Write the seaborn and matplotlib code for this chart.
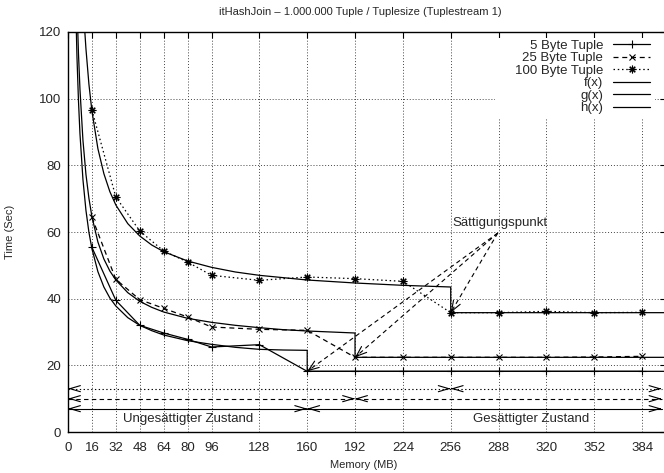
import matplotlib
matplotlib.use("Agg")
import matplotlib.pyplot as plt
import seaborn as sns
from matplotlib.patches import Rectangle

# ---------------- data ----------------
memory = [16, 32, 48, 64, 80, 96, 128, 160, 192, 224, 256, 288, 320, 352, 384]
time_5 = [55.4, 39.5, 32.0, 29.7, 27.8, 25.5, 26.2, 18.2, 18.2, 18.2, 18.2, 18.2, 18.2, 18.2, 18.2]
time_25 = [64.4, 45.8, 39.7, 37.1, 34.5, 31.5, 30.8, 30.5, 22.4, 22.4, 22.4, 22.4, 22.4, 22.5, 22.7]
time_100 = [96.6, 70.5, 60.3, 54.3, 51.0, 47.0, 45.5, 46.5, 46.0, 45.2, 35.8, 35.8, 36.2, 35.8, 35.9]

f_x = [5, 6, 7, 8, 10, 12, 14, 16, 20, 24, 28, 32, 40, 48, 56, 64, 80, 96, 112, 128, 144, 160, 160, 400]
f_y = [130.9, 112.5, 99.4, 89.5, 75.7, 66.5, 59.9, 55.0, 48.1, 43.5, 40.2, 37.8, 34.3, 32.0, 30.4,
       29.1, 27.4, 26.3, 25.4, 24.8, 24.6, 24.5, 18.2, 18.2]
g_x = [5, 6, 7, 8, 10, 12, 14, 16, 20, 24, 28, 32, 40, 48, 56, 64, 80, 96, 112, 128, 144, 160, 176,
       192, 192, 400]
g_y = [148.5, 128.2, 113.6, 102.8, 87.5, 77.3, 70.1, 64.6, 57.0, 51.9, 48.3, 45.6, 41.8, 39.2, 37.4,
       36.0, 34.1, 32.9, 32.0, 31.3, 30.7, 30.3, 30.0, 29.7, 22.4, 22.4]
h_x = [10, 11, 12, 14, 16, 20, 24, 28, 32, 40, 48, 56, 64, 80, 96, 112, 128, 160, 192, 224, 256, 256, 400]
h_y = [130.0, 121.8, 115.0, 104.3, 96.3, 85.0, 77.5, 72.1, 68.1, 62.5, 58.8, 56.1, 54.1, 51.3, 49.4,
       48.0, 47.0, 45.6, 44.7, 44.0, 43.5, 35.8, 35.8]

# saturation points (memory, time) of the three tuple sizes
sat_x = [160, 192, 256]
sat_y = [18.2, 22.4, 35.8]

# zone arrows at the bottom (level, split point)
zone_levels = [7, 10, 13]
zone_split = [160, 192, 256]
zone_styles = ['-', (0, (4, 3)), (0, (1.2, 2.2))]

x_ticks = [0, 16, 32, 48, 64, 80, 96, 128, 160, 192, 224, 256, 288, 320, 352, 384]
y_ticks = [0, 20, 40, 60, 80, 100, 120]

title = "itHashJoin \u2013 1.000.000 Tuple / Tuplesize (Tuplestream 1)"

# ---------------- style ----------------
sns.set_style("white")
plt.rcParams['font.family'] = ['Liberation Sans', 'DejaVu Sans']

fig = plt.figure(figsize=(6.64, 4.73), dpi=100)
ax = fig.add_axes([68 / 664, 1 - 432 / 473, 598 / 664, 400 / 473])

lw = 0.9
sns.lineplot(x=memory, y=time_5, color='black', lw=lw, marker='+', markersize=5.5, mew=0.8,
             mec='black', label='5 Byte Tuple', ax=ax, sort=False, estimator=None)
sns.lineplot(x=memory, y=time_25, color='black', lw=lw, linestyle=(0, (4, 3)), marker='x',
             markersize=4.2, mew=0.8, mec='black', label='25 Byte Tuple', ax=ax, sort=False,
             estimator=None)
sns.lineplot(x=memory, y=time_100, color='black', lw=lw, linestyle=(0, (1.2, 2.2)),
             marker=(8, 2, 0), markersize=5.5, mew=0.8, mec='black', label='100 Byte Tuple',
             ax=ax, sort=False, estimator=None)
sns.lineplot(x=f_x, y=f_y, color='black', lw=lw, label='f(x)', ax=ax, sort=False, estimator=None)
sns.lineplot(x=g_x, y=g_y, color='black', lw=lw, label='g(x)', ax=ax, sort=False, estimator=None)
sns.lineplot(x=h_x, y=h_y, color='black', lw=lw, label='h(x)', ax=ax, sort=False, estimator=None)

ax.set_xlim(0, 400)
ax.set_ylim(0, 120)
ax.set_xticks(x_ticks)
ax.set_yticks(y_ticks)
ax.grid(True, linestyle=(0, (1, 2)), color='#444444', lw=0.7)
ax.tick_params(direction='in', top=True, right=True, length=4.5, width=0.8,
               labelsize=9.5, color='black')
ax.tick_params(axis='x', pad=7)
ax.tick_params(axis='y', pad=5)
for sp in ax.spines.values():
    sp.set_color('black')
    sp.set_linewidth(1.0)

X_END = 397


def head(x_tip, y_tip, x_from, y_from, hw=0.22):
    ax.annotate('', xy=(x_tip, y_tip), xytext=(x_from, y_from),
                arrowprops=dict(arrowstyle=f'->,head_length=0.75,head_width={hw}',
                                color='black', lw=0.8, shrinkA=0, shrinkB=0),
                annotation_clip=False)


# bottom zone arrows
for lvl, split, ls in zip(zone_levels, zone_split, zone_styles):
    ax.plot([0, X_END], [lvl, lvl], color='black', lw=0.8, linestyle=ls)
    head(0, lvl, 1, lvl)
    head(split, lvl, split - 1, lvl)
    head(split, lvl, split + 1, lvl)
    head(X_END, lvl, X_END - 1, lvl)

ax.text(80.3, 3.9, 'Ungesättigter Zustand', ha='center', va='center', fontsize=9.5)
ax.text(310, 3.9, 'Gesättigter Zustand', ha='center', va='center', fontsize=9.5)

# Sättigungspunkt annotations
sx, sy = 287.5, 59.7
ax.text(257, 62.8, 'Sättigungspunkt', ha='left', va='center', fontsize=9.5)
for tx, ty in zip(sat_x, sat_y):
    ax.plot([sx, tx], [sy, ty], color='black', lw=0.8, linestyle=(0, (4, 3)))
    head(tx, ty, tx + 0.02 * (sx - tx), ty + 0.02 * (sy - ty), hw=0.28)

# legend with white background
ax.add_patch(Rectangle((0.714, 0.785), 0.268, 0.2, transform=ax.transAxes,
                       facecolor='white', edgecolor='none', zorder=1))
handles, labels = ax.get_legend_handles_labels()
leg = ax.legend(handles, labels, loc='upper right', bbox_to_anchor=(650 / 664, 1 - 39.5 / 473),
                bbox_transform=fig.transFigure, frameon=False, markerfirst=False,
                handlelength=2.8, handletextpad=0.75, labelspacing=0.02, fontsize=9.5,
                borderpad=0, borderaxespad=0)

ax.set_xlabel('Memory (MB)', fontsize=8)
ax.set_ylabel('Time (Sec)', fontsize=8)
ax.xaxis.set_label_coords((364 - 68) / 598, (432 - 460) / 400)
ax.yaxis.set_label_coords((15 - 68) / 598, 0.5)
fig.text(360 / 664, 1 - 12 / 473, title, ha='center', va='center', fontsize=8)

fig.savefig('out.png', dpi=100)
